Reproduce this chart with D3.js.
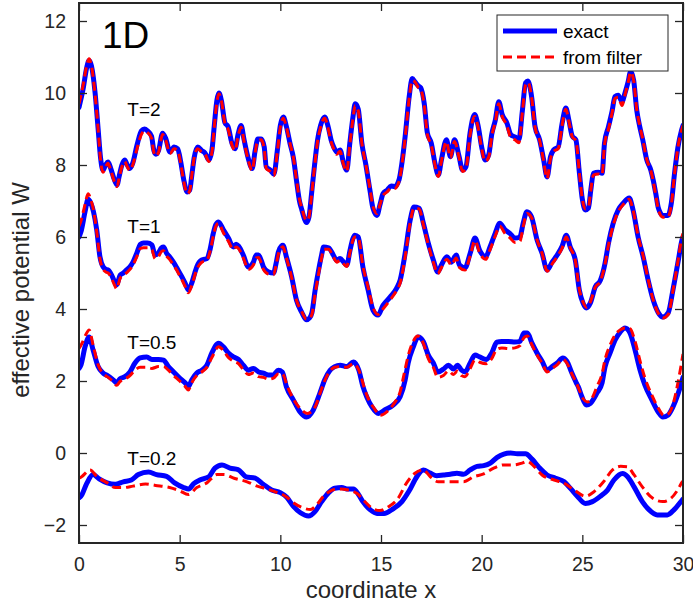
<!DOCTYPE html>
<html>
<head>
<meta charset="utf-8">
<script src="https://cdn.jsdelivr.net/npm/d3@7"></script>
<style>
  html, body { margin: 0; padding: 0; background: #fff; }
  svg { display: block; font-family: "Liberation Sans", Arial, Helvetica, sans-serif; }
</style>
</head>
<body>
<svg id="chart" width="693" height="604"></svg>
<script>
// Effective potential W(x) at several temperatures: exact vs. reconstructed from filter.
// Each series is a list of [x, W] samples.

const xTicks = [0, 5, 10, 15, 20, 25, 30];
const yTicks = [-2, 0, 2, 4, 6, 8, 10, 12];
const tempLabels = ["T=2", "T=1", "T=0.5", "T=0.2"];
const tempLabelAnchors = [[2.4, 9.36], [2.4, 6.11], [2.4, 2.89], [2.4, -0.33]];
const legendNames = ["exact", "from filter"];

const exactT2 = [[0,9.6],[0.2,10.1],[0.38,10.7],[0.5,10.9],[0.62,10.75],[0.8,10.0],[0.95,9.0],[1.07,8.2],[1.19,7.85],[1.32,8.0],[1.44,8.08],[1.58,7.9],[1.75,7.6],[1.89,7.45],[2.0,7.7],[2.13,8.0],[2.27,8.14],[2.4,8.0],[2.52,7.9],[2.67,8.05],[2.88,8.55],[3.1,8.95],[3.25,9.0],[3.4,8.95],[3.6,8.8],[3.72,8.4],[3.82,8.3],[3.95,8.4],[4.15,8.88],[4.3,8.75],[4.52,8.36],[4.72,8.5],[4.9,8.45],[5.05,8.1],[5.2,7.6],[5.38,7.25],[5.5,7.3],[5.6,7.7],[5.72,8.2],[5.9,8.5],[6.1,8.4],[6.26,8.33],[6.45,8.14],[6.6,8.4],[6.72,9.1],[6.85,9.8],[6.95,10.0],[7.07,9.8],[7.25,9.17],[7.4,9.07],[7.6,8.6],[7.75,8.45],[7.9,8.85],[8.05,9.1],[8.2,8.7],[8.4,8.2],[8.6,7.9],[8.75,8.4],[8.88,8.72],[9.05,8.72],[9.2,8.5],[9.3,7.95],[9.5,7.86],[9.68,7.75],[9.85,8.4],[10.0,9.1],[10.15,9.33],[10.3,9.07],[10.48,8.6],[10.65,8.2],[10.8,7.58],[10.95,7.0],[11.07,6.75],[11.2,6.5],[11.3,6.4],[11.42,6.55],[11.55,7.2],[11.7,8.0],[11.85,8.7],[12.0,9.1],[12.2,9.33],[12.38,9.05],[12.52,8.7],[12.65,8.5],[12.8,8.36],[12.97,8.42],[13.12,8.1],[13.3,7.86],[13.45,8.6],[13.6,9.3],[13.72,9.7],[13.87,9.55],[14.05,8.6],[14.25,8.0],[14.45,7.3],[14.6,6.8],[14.8,6.6],[14.95,6.9],[15.1,7.2],[15.3,7.3],[15.5,7.42],[15.68,7.4],[15.9,7.6],[16.05,8.1],[16.2,8.8],[16.4,9.9],[16.55,10.4],[16.7,10.3],[16.85,10.2],[16.97,10.15],[17.15,9.7],[17.3,8.9],[17.5,8.6],[17.68,8.05],[17.85,7.72],[18.0,8.14],[18.25,8.7],[18.45,8.23],[18.65,8.7],[18.88,8.23],[19.05,7.86],[19.22,7.95],[19.42,8.88],[19.65,9.4],[19.83,9.07],[20.0,8.5],[20.18,8.14],[20.35,8.28],[20.5,8.85],[20.68,9.25],[20.85,9.76],[21.02,9.4],[21.25,9.17],[21.45,8.84],[21.65,8.78],[21.85,8.7],[22.02,9.5],[22.18,10.28],[22.3,10.33],[22.48,9.9],[22.65,9.07],[22.88,8.7],[23.08,8.14],[23.25,7.67],[23.42,8.23],[23.58,8.42],[23.8,8.5],[24.0,9.17],[24.18,9.58],[24.33,9.25],[24.5,8.8],[24.68,8.7],[24.85,7.8],[25.0,7.05],[25.15,6.75],[25.3,6.8],[25.42,7.3],[25.55,7.77],[25.8,7.8],[25.98,7.77],[26.1,8.6],[26.3,9.07],[26.48,9.5],[26.62,9.9],[26.78,9.94],[26.97,9.76],[27.12,10.0],[27.27,10.3],[27.4,10.6],[27.55,10.35],[27.7,9.53],[27.85,9.07],[28.0,8.7],[28.2,8.14],[28.4,7.86],[28.52,7.58],[28.65,7.2],[28.78,6.8],[29.0,6.6],[29.25,6.6],[29.42,6.94],[29.58,7.77],[29.75,8.5],[29.92,8.95],[30,9.1]];

const filterT2 = [[0,9.7],[0.2,10.2],[0.38,10.75],[0.5,10.95],[0.62,10.75],[0.8,9.95],[0.95,9.0],[1.07,8.15],[1.19,7.8],[1.32,7.95],[1.44,8.05],[1.58,7.85],[1.75,7.55],[1.89,7.4],[2.0,7.65],[2.13,7.95],[2.27,8.1],[2.4,7.95],[2.52,7.85],[2.67,8.0],[2.88,8.45],[3.1,8.85],[3.25,8.95],[3.4,8.9],[3.6,8.75],[3.72,8.35],[3.82,8.25],[3.95,8.35],[4.15,8.85],[4.3,8.7],[4.52,8.32],[4.72,8.45],[4.9,8.4],[5.05,8.05],[5.2,7.55],[5.38,7.2],[5.5,7.28],[5.6,7.7],[5.72,8.2],[5.9,8.45],[6.1,8.35],[6.26,8.3],[6.45,8.1],[6.6,8.35],[6.72,9.05],[6.85,9.75],[6.95,9.98],[7.07,9.8],[7.25,9.15],[7.4,9.0],[7.6,8.55],[7.75,8.4],[7.9,8.8],[8.05,9.05],[8.2,8.65],[8.4,8.15],[8.6,7.85],[8.75,8.35],[8.88,8.68],[9.05,8.7],[9.2,8.45],[9.3,7.9],[9.5,7.82],[9.68,7.7],[9.85,8.35],[10.0,9.05],[10.15,9.3],[10.3,9.05],[10.48,8.6],[10.65,8.2],[10.8,7.6],[10.95,7.05],[11.07,6.8],[11.2,6.55],[11.3,6.45],[11.42,6.55],[11.55,7.15],[11.7,7.95],[11.85,8.65],[12.0,9.05],[12.2,9.3],[12.38,9.0],[12.52,8.65],[12.65,8.45],[12.8,8.3],[12.97,8.38],[13.12,8.05],[13.3,7.82],[13.45,8.55],[13.6,9.25],[13.72,9.65],[13.87,9.5],[14.05,8.6],[14.25,8.0],[14.45,7.35],[14.6,6.85],[14.8,6.65],[14.95,6.9],[15.1,7.15],[15.3,7.25],[15.5,7.35],[15.68,7.35],[15.9,7.55],[16.05,8.05],[16.2,8.75],[16.4,9.85],[16.55,10.35],[16.7,10.3],[16.85,10.15],[16.97,10.1],[17.15,9.65],[17.3,8.85],[17.5,8.55],[17.68,8.0],[17.85,7.68],[18.0,8.1],[18.25,8.65],[18.45,8.2],[18.65,8.65],[18.88,8.2],[19.05,7.82],[19.22,7.9],[19.42,8.82],[19.65,9.35],[19.83,9.02],[20.0,8.45],[20.18,8.1],[20.35,8.22],[20.5,8.8],[20.68,9.2],[20.85,9.7],[21.02,9.35],[21.25,9.1],[21.45,8.75],[21.65,8.7],[21.85,8.62],[22.02,9.45],[22.18,10.22],[22.3,10.3],[22.48,9.88],[22.65,9.05],[22.88,8.68],[23.08,8.1],[23.25,7.62],[23.42,8.18],[23.58,8.38],[23.8,8.45],[24.0,9.12],[24.18,9.55],[24.33,9.22],[24.5,8.78],[24.68,8.68],[24.85,7.8],[25.0,7.05],[25.15,6.78],[25.3,6.82],[25.42,7.3],[25.55,7.72],[25.8,7.75],[25.98,7.72],[26.1,8.55],[26.3,9.0],[26.48,9.45],[26.62,9.85],[26.78,9.88],[26.97,9.65],[27.12,9.95],[27.27,10.28],[27.4,10.58],[27.55,10.35],[27.7,9.55],[27.85,9.1],[28.0,8.72],[28.2,8.15],[28.4,7.85],[28.52,7.55],[28.65,7.15],[28.78,6.75],[29.0,6.55],[29.25,6.55],[29.42,6.9],[29.58,7.75],[29.75,8.5],[29.92,8.95],[30,9.1]];

const exactT1 = [[0,6.0],[0.1,6.15],[0.3,6.7],[0.45,7.05],[0.58,6.95],[0.72,6.7],[0.88,6.2],[1.04,5.45],[1.2,5.17],[1.35,5.1],[1.45,5.08],[1.62,4.94],[1.75,4.78],[1.87,4.67],[2.04,4.94],[2.2,5.0],[2.35,5.08],[2.53,5.17],[2.68,5.3],[2.87,5.55],[3.05,5.8],[3.2,5.83],[3.4,5.83],[3.62,5.78],[3.78,5.5],[3.94,5.55],[4.1,5.7],[4.2,5.72],[4.35,5.55],[4.5,5.45],[4.69,5.3],[4.85,5.15],[5.0,5.0],[5.15,4.85],[5.27,4.72],[5.43,4.53],[5.6,4.72],[5.75,5.0],[5.85,5.17],[6.1,5.36],[6.35,5.4],[6.5,5.63],[6.67,6.1],[6.8,6.35],[6.93,6.42],[7.17,6.2],[7.42,5.97],[7.67,5.72],[7.8,5.8],[7.92,5.75],[8.16,5.5],[8.41,5.17],[8.66,5.3],[8.8,5.5],[8.92,5.5],[9.05,5.35],[9.16,5.17],[9.4,5.03],[9.66,5.0],[9.8,5.3],[9.9,5.58],[10.05,5.75],[10.13,5.77],[10.3,5.45],[10.56,4.9],[10.8,4.25],[11.07,3.9],[11.3,3.7],[11.45,3.75],[11.57,3.9],[11.73,4.53],[11.9,5.08],[12.05,5.5],[12.15,5.72],[12.4,5.7],[12.63,5.5],[12.8,5.35],[12.97,5.4],[13.15,5.3],[13.3,5.22],[13.46,5.63],[13.6,5.95],[13.7,6.05],[13.87,6.0],[14.1,5.17],[14.36,4.53],[14.6,3.97],[14.85,3.83],[15.1,4.1],[15.45,4.33],[15.78,4.58],[15.95,4.8],[16.2,5.55],[16.45,6.47],[16.64,6.83],[16.9,6.8],[17.1,6.39],[17.35,5.83],[17.6,5.36],[17.82,5.03],[18.0,5.22],[18.27,5.45],[18.5,5.3],[18.73,5.5],[18.9,5.22],[19.17,5.14],[19.43,5.55],[19.67,5.97],[19.9,5.63],[20.2,5.45],[20.4,5.7],[20.67,6.1],[20.9,6.38],[21.16,6.2],[21.4,6.1],[21.65,5.97],[21.9,6.0],[22.06,6.38],[22.25,6.7],[22.47,6.57],[22.75,5.92],[23.0,5.55],[23.25,5.08],[23.5,5.3],[23.75,5.5],[24.0,5.75],[24.2,6.05],[24.4,5.72],[24.65,5.36],[24.85,4.53],[25.03,4.17],[25.2,4.03],[25.4,4.17],[25.64,4.61],[25.9,4.8],[26.13,5.28],[26.3,5.83],[26.53,6.38],[26.78,6.75],[27.03,6.94],[27.33,7.08],[27.52,6.75],[27.77,6.0],[28.02,5.45],[28.27,4.8],[28.52,4.25],[28.77,3.9],[29.0,3.78],[29.27,3.9],[29.5,4.53],[29.77,5.36],[29.95,5.92],[30,6.0]];

const filterT1 = [[0,6.3],[0.1,6.45],[0.3,6.9],[0.45,7.2],[0.58,7.05],[0.72,6.75],[0.88,6.15],[1.04,5.4],[1.2,5.1],[1.35,5.02],[1.45,5.0],[1.62,4.85],[1.75,4.68],[1.87,4.56],[2.04,4.85],[2.2,4.93],[2.35,5.0],[2.53,5.1],[2.68,5.22],[2.87,5.45],[3.05,5.68],[3.2,5.7],[3.4,5.7],[3.62,5.65],[3.78,5.4],[3.94,5.45],[4.1,5.6],[4.2,5.62],[4.35,5.47],[4.5,5.38],[4.69,5.22],[4.85,5.08],[5.0,4.92],[5.15,4.77],[5.27,4.63],[5.43,4.45],[5.6,4.65],[5.75,4.93],[5.85,5.1],[6.1,5.3],[6.35,5.35],[6.5,5.58],[6.67,6.02],[6.8,6.3],[6.93,6.38],[7.17,6.12],[7.42,5.88],[7.67,5.65],[7.8,5.72],[7.92,5.68],[8.16,5.42],[8.41,5.1],[8.66,5.22],[8.8,5.42],[8.92,5.43],[9.05,5.28],[9.16,5.1],[9.4,4.97],[9.66,4.95],[9.8,5.25],[9.9,5.52],[10.05,5.7],[10.13,5.73],[10.3,5.42],[10.56,4.88],[10.8,4.25],[11.07,3.92],[11.3,3.72],[11.45,3.74],[11.57,3.85],[11.73,4.42],[11.9,4.98],[12.05,5.42],[12.15,5.66],[12.4,5.66],[12.63,5.45],[12.8,5.3],[12.97,5.35],[13.15,5.25],[13.3,5.18],[13.46,5.58],[13.6,5.9],[13.7,6.0],[13.87,5.98],[14.1,5.2],[14.36,4.6],[14.6,4.05],[14.85,3.85],[15.1,4.0],[15.45,4.25],[15.78,4.52],[15.95,4.72],[16.2,5.45],[16.45,6.4],[16.64,6.8],[16.9,6.78],[17.1,6.35],[17.35,5.78],[17.6,5.3],[17.82,4.98],[18.0,5.15],[18.27,5.38],[18.5,5.22],[18.73,5.42],[18.9,5.15],[19.17,5.08],[19.43,5.48],[19.67,5.9],[19.9,5.56],[20.2,5.38],[20.4,5.62],[20.67,6.02],[20.9,6.3],[21.16,6.1],[21.4,5.98],[21.65,5.85],[21.9,5.88],[22.06,6.28],[22.25,6.65],[22.47,6.55],[22.75,5.92],[23.0,5.55],[23.25,5.05],[23.5,5.25],[23.75,5.45],[24.0,5.7],[24.2,6.0],[24.4,5.7],[24.65,5.35],[24.85,4.55],[25.03,4.2],[25.2,4.05],[25.4,4.2],[25.64,4.6],[25.9,4.78],[26.13,5.25],[26.3,5.78],[26.53,6.32],[26.78,6.7],[27.03,6.9],[27.33,7.05],[27.52,6.75],[27.77,6.02],[28.02,5.48],[28.27,4.82],[28.52,4.25],[28.77,3.88],[29.0,3.75],[29.27,3.85],[29.5,4.5],[29.77,5.4],[29.95,6.0],[30,6.1]];

const exactT05 = [[0,2.35],[0.1,2.45],[0.3,2.95],[0.5,3.22],[0.7,2.86],[0.95,2.4],[1.2,2.22],[1.45,2.14],[1.7,2.03],[1.87,1.95],[2.03,2.06],[2.28,2.12],[2.53,2.25],[2.78,2.5],[3.03,2.64],[3.37,2.67],[3.62,2.6],[3.95,2.6],[4.2,2.58],[4.44,2.4],[4.7,2.25],[5.0,2.08],[5.27,1.95],[5.43,1.84],[5.6,2.03],[5.85,2.22],[6.1,2.3],[6.35,2.44],[6.6,2.78],[6.93,3.05],[7.17,2.95],[7.42,2.78],[7.67,2.67],[7.92,2.6],[8.16,2.44],[8.41,2.3],[8.66,2.35],[8.92,2.25],[9.16,2.22],[9.4,2.17],[9.66,2.17],[9.9,2.3],[10.1,2.25],[10.3,1.84],[10.65,1.47],[10.98,1.14],[11.3,1.0],[11.63,1.19],[11.97,1.67],[12.2,2.03],[12.47,2.3],[12.7,2.4],[12.97,2.44],[13.3,2.4],[13.63,2.53],[13.9,2.3],[14.1,1.85],[14.3,1.55],[14.55,1.28],[14.87,1.1],[15.2,1.2],[15.6,1.33],[15.95,1.56],[16.2,2.03],[16.35,2.5],[16.6,2.94],[16.85,3.22],[17.1,3.1],[17.35,2.72],[17.6,2.5],[17.82,2.25],[18.1,2.33],[18.35,2.44],[18.6,2.33],[18.8,2.44],[19.0,2.3],[19.17,2.25],[19.43,2.5],[19.67,2.72],[19.9,2.67],[20.23,2.6],[20.5,2.78],[20.75,3.08],[21.0,3.1],[21.33,3.1],[21.65,3.08],[21.9,3.1],[22.1,3.33],[22.27,3.33],[22.5,3.05],[22.75,2.78],[23.0,2.55],[23.25,2.3],[23.5,2.4],[23.75,2.5],[24.03,2.64],[24.23,2.55],[24.48,2.22],[24.7,1.95],[24.8,1.84],[24.98,1.56],[25.2,1.33],[25.4,1.38],[25.73,1.67],[25.98,1.95],[26.13,2.4],[26.38,2.78],[26.63,3.14],[26.88,3.36],[27.12,3.47],[27.37,3.33],[27.62,2.86],[27.87,2.3],[28.1,1.9],[28.46,1.47],[28.77,1.14],[29.0,1.0],[29.25,1.05],[29.5,1.28],[29.77,1.67],[29.95,2.0],[30,2.1]];

const filterT05 = [[0,2.9],[0.15,3.05],[0.35,3.3],[0.5,3.42],[0.7,3.0],[0.95,2.45],[1.2,2.2],[1.45,2.1],[1.7,1.98],[1.87,1.88],[2.03,1.98],[2.28,2.05],[2.53,2.15],[2.78,2.3],[3.03,2.38],[3.37,2.38],[3.62,2.35],[3.95,2.4],[4.2,2.4],[4.44,2.3],[4.7,2.15],[5.0,2.0],[5.27,1.85],[5.43,1.75],[5.6,1.95],[5.85,2.15],[6.1,2.25],[6.35,2.38],[6.6,2.65],[6.93,2.95],[7.17,2.85],[7.42,2.65],[7.67,2.55],[7.92,2.48],[8.16,2.32],[8.41,2.18],[8.66,2.22],[8.92,2.12],[9.16,2.1],[9.4,2.05],[9.66,2.08],[9.9,2.2],[10.1,2.2],[10.35,1.85],[10.7,1.45],[11.05,1.2],[11.35,1.1],[11.7,1.25],[12.0,1.7],[12.2,2.0],[12.47,2.28],[12.7,2.38],[12.97,2.4],[13.3,2.38],[13.63,2.48],[13.9,2.3],[14.15,1.85],[14.3,1.6],[14.65,1.25],[14.97,1.05],[15.3,1.15],[15.65,1.38],[15.95,1.7],[16.15,2.2],[16.35,2.7],[16.6,3.1],[16.82,3.25],[17.1,3.05],[17.35,2.62],[17.6,2.38],[17.82,2.1],[18.1,2.15],[18.35,2.28],[18.6,2.18],[18.8,2.28],[19.0,2.15],[19.17,2.12],[19.43,2.35],[19.67,2.58],[19.9,2.52],[20.23,2.48],[20.5,2.62],[20.75,2.88],[21.0,2.92],[21.33,2.9],[21.65,2.92],[21.9,2.98],[22.1,3.2],[22.27,3.25],[22.5,3.0],[22.75,2.72],[23.0,2.5],[23.25,2.25],[23.5,2.35],[23.75,2.45],[24.03,2.6],[24.23,2.5],[24.48,2.2],[24.7,1.95],[24.85,1.75],[25.05,1.5],[25.25,1.42],[25.45,1.5],[25.73,1.85],[25.98,2.2],[26.13,2.6],[26.38,3.0],[26.63,3.28],[26.88,3.42],[27.12,3.47],[27.37,3.45],[27.62,3.1],[27.87,2.55],[28.1,2.1],[28.46,1.6],[28.77,1.25],[29.05,1.05],[29.3,1.1],[29.55,1.45],[29.8,2.1],[29.97,2.65],[30,2.75]];

const exactT02 = [[0,-1.25],[0.13,-1.17],[0.38,-0.85],[0.7,-0.6],[1.0,-0.72],[1.4,-0.83],[1.8,-0.87],[2.2,-0.8],[2.6,-0.75],[2.95,-0.6],[3.45,-0.53],[3.85,-0.6],[4.35,-0.65],[4.75,-0.83],[5.2,-0.96],[5.45,-1.0],[5.7,-0.85],[6.0,-0.75],[6.45,-0.66],[6.75,-0.42],[7.1,-0.33],[7.5,-0.42],[7.9,-0.46],[8.3,-0.66],[8.75,-0.7],[9.15,-0.87],[9.57,-1.03],[10.0,-1.1],[10.32,-1.23],[10.65,-1.48],[11.0,-1.66],[11.4,-1.75],[11.73,-1.62],[12.05,-1.35],[12.4,-1.1],[12.7,-0.98],[13.05,-0.96],[13.35,-1.0],[13.63,-1.0],[13.88,-1.15],[14.1,-1.35],[14.47,-1.58],[14.8,-1.68],[15.15,-1.68],[15.6,-1.55],[16.04,-1.35],[16.4,-1.05],[16.78,-0.66],[17.1,-0.47],[17.45,-0.56],[17.77,-0.63],[18.1,-0.61],[18.44,-0.59],[18.77,-0.56],[19.1,-0.59],[19.43,-0.47],[19.77,-0.37],[20.1,-0.35],[20.43,-0.28],[20.77,-0.12],[21.1,-0.03],[21.43,0.0],[21.77,-0.02],[22.18,-0.02],[22.5,-0.17],[22.85,-0.4],[23.25,-0.61],[23.67,-0.7],[24.1,-0.8],[24.42,-0.99],[24.75,-1.2],[25.15,-1.4],[25.5,-1.35],[25.9,-1.2],[26.25,-1.03],[26.57,-0.75],[27.0,-0.57],[27.25,-0.66],[27.57,-0.94],[27.98,-1.35],[28.32,-1.58],[28.72,-1.72],[29.22,-1.72],[29.55,-1.58],[29.97,-1.3],[30,-1.28]];

const filterT02 = [[0,-0.7],[0.13,-0.66],[0.55,-0.47],[0.9,-0.66],[1.4,-0.83],[1.8,-0.96],[2.2,-0.96],[2.68,-0.92],[3.3,-0.86],[3.8,-0.9],[4.5,-0.96],[5.0,-1.05],[5.43,-1.15],[5.85,-0.96],[6.35,-0.83],[6.85,-0.6],[7.2,-0.6],[7.7,-0.7],[8.35,-0.8],[8.85,-0.92],[9.35,-1.0],[9.85,-1.1],[10.25,-1.2],[10.65,-1.38],[11.15,-1.53],[11.5,-1.57],[11.8,-1.44],[12.15,-1.2],[12.5,-1.05],[12.85,-1.0],[13.38,-1.03],[13.8,-1.12],[14.2,-1.35],[14.6,-1.55],[14.95,-1.6],[15.35,-1.5],[15.85,-1.26],[16.25,-0.85],[16.67,-0.57],[17.1,-0.47],[17.45,-0.66],[17.85,-0.8],[18.44,-0.8],[19.1,-0.8],[19.6,-0.66],[20.1,-0.58],[20.6,-0.42],[21.1,-0.33],[21.6,-0.33],[22.0,-0.28],[22.25,-0.23],[22.6,-0.37],[23.0,-0.61],[23.6,-0.75],[24.1,-0.84],[24.6,-1.03],[25.15,-1.2],[25.57,-1.08],[26.05,-0.8],[26.5,-0.47],[26.9,-0.37],[27.23,-0.38],[27.57,-0.61],[27.98,-0.94],[28.5,-1.26],[29.0,-1.35],[29.4,-1.26],[29.73,-1.03],[29.97,-0.8],[30,-0.78]];

const exactSeries = [exactT2, exactT1, exactT05, exactT02];
const filterSeries = [filterT2, filterT1, filterT05, filterT02];

// ---- layout ----
const svg = d3.select("#chart");
const plot = { left: 79, top: 3, right: 683, bottom: 543 };
const axisColor = "#262626";
const exactColor = "#0000ff";
const filterColor = "#ff0000";

const x = d3.scaleLinear().domain([0, 30]).range([plot.left, plot.right]);
const y = d3.scaleLinear().domain([-2.5, 12.5]).range([plot.bottom, plot.top]);

svg.append("rect").attr("width", 693).attr("height", 604).attr("fill", "#fff");

svg.append("defs").append("clipPath").attr("id", "plotClip")
  .append("rect")
  .attr("x", plot.left).attr("y", plot.top)
  .attr("width", plot.right - plot.left).attr("height", plot.bottom - plot.top);

const line = d3.line()
  .x(d => x(d[0]))
  .y(d => y(d[1]))
  .curve(d3.curveMonotoneX);

const curves = svg.append("g").attr("clip-path", "url(#plotClip)");

exactSeries.forEach((s, i) => {
  curves.append("path")
    .attr("d", line(s))
    .attr("fill", "none")
    .attr("stroke", exactColor)
    .attr("stroke-width", 5)
    .attr("stroke-linejoin", "round")
    .attr("stroke-linecap", "round");
  curves.append("path")
    .attr("d", line(filterSeries[i]))
    .attr("fill", "none")
    .attr("stroke", filterColor)
    .attr("stroke-width", 3)
    .attr("stroke-dasharray", "9,5");
});

// ---- axes (box with inward ticks) ----
const tickFont = 19.5;
function styleAxis(g) {
  g.select(".domain").remove();
  g.selectAll(".tick line").attr("stroke", axisColor).attr("stroke-width", 1.3);
  g.selectAll(".tick text")
    .attr("fill", axisColor)
    .style("font-size", tickFont + "px")
    .style("font-family", "'Liberation Sans', Arial, sans-serif");
}

svg.append("g")
  .attr("transform", `translate(0,${plot.bottom})`)
  .call(d3.axisBottom(x).tickValues(xTicks).tickFormat(d3.format("d")).tickSize(-8).tickPadding(14))
  .call(styleAxis);

svg.append("g")
  .attr("transform", `translate(0,${plot.top})`)
  .call(d3.axisTop(x).tickValues(xTicks).tickFormat("").tickSize(-8))
  .call(styleAxis);

svg.append("g")
  .attr("transform", `translate(${plot.left},0)`)
  .call(d3.axisLeft(y).tickValues(yTicks).tickFormat(d3.format("d")).tickSize(-8).tickPadding(13))
  .call(styleAxis);

svg.append("g")
  .attr("transform", `translate(${plot.right},0)`)
  .call(d3.axisRight(y).tickValues(yTicks).tickFormat("").tickSize(-8))
  .call(styleAxis);

svg.append("rect")
  .attr("x", plot.left).attr("y", plot.top)
  .attr("width", plot.right - plot.left).attr("height", plot.bottom - plot.top)
  .attr("fill", "none")
  .attr("stroke", axisColor)
  .attr("stroke-width", 2);

// ---- axis titles ----
svg.append("text")
  .attr("x", 371)
  .attr("y", 598)
  .attr("text-anchor", "middle")
  .attr("fill", axisColor)
  .style("font-size", "24px")
  .text("coordinate x");

svg.append("text")
  .attr("transform", "translate(29,290) rotate(-90)")
  .attr("text-anchor", "middle")
  .attr("fill", axisColor)
  .style("font-size", "24px")
  .text("effective potential W");

// ---- annotations ----
svg.append("text")
  .attr("x", 102).attr("y", 48)
  .attr("fill", "#000")
  .style("font-size", "37px")
  .text("1D");

svg.selectAll("text.temp")
  .data(tempLabels)
  .join("text")
  .attr("class", "temp")
  .attr("x", (d, i) => x(tempLabelAnchors[i][0]))
  .attr("y", (d, i) => y(tempLabelAnchors[i][1]))
  .attr("fill", "#000")
  .style("font-size", "19px")
  .text(d => d);

// ---- legend ----
const legend = svg.append("g").attr("transform", "translate(497,15)");
legend.append("rect")
  .attr("width", 171).attr("height", 56)
  .attr("fill", "#fff")
  .attr("stroke", axisColor)
  .attr("stroke-width", 1);
const legendStyles = [
  { color: exactColor, width: 5, dash: null },
  { color: filterColor, width: 3, dash: "9,5" }
];
legendNames.forEach((name, i) => {
  const yy = 16 + i * 26;
  legend.append("line")
    .attr("x1", 6).attr("x2", 60).attr("y1", yy).attr("y2", yy)
    .attr("stroke", legendStyles[i].color)
    .attr("stroke-width", legendStyles[i].width)
    .attr("stroke-dasharray", legendStyles[i].dash);
  legend.append("text")
    .attr("x", 66).attr("y", yy + 7)
    .attr("fill", "#000")
    .style("font-size", "19px")
    .text(name);
});
</script>
</body>
</html>
